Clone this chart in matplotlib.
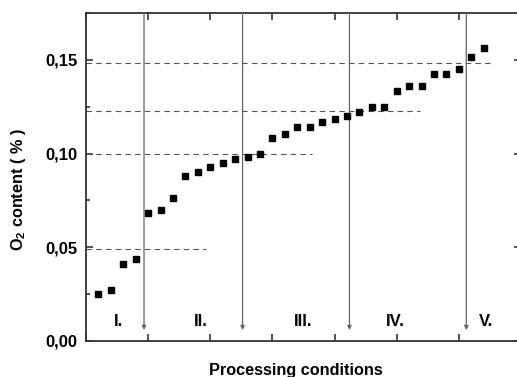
import numpy as np
import matplotlib
matplotlib.use('Agg')
import matplotlib.pyplot as plt
from matplotlib.ticker import FixedLocator, FixedFormatter, MultipleLocator

plt.rcParams['font.family'] = ['Liberation Sans', 'DejaVu Sans']
plt.rcParams['font.weight'] = 'bold'
plt.rcParams['mathtext.fontset'] = 'custom'
plt.rcParams['mathtext.bf'] = 'Liberation Sans:bold'
plt.rcParams['mathtext.rm'] = 'Liberation Sans:bold'
plt.rcParams['mathtext.default'] = 'bf'
plt.rcParams['lines.scale_dashes'] = False

# measured O2 content, sorted by processing condition
cond = np.arange(1, 33)
o2 = [0.0251, 0.0272, 0.0411, 0.0440, 0.0682, 0.0701, 0.0762, 0.0883,
      0.0902, 0.0931, 0.0952, 0.0972, 0.0983, 0.1000, 0.1082, 0.1102,
      0.1141, 0.1141, 0.1171, 0.1182, 0.1203, 0.1221, 0.1251, 0.1251,
      0.1333, 0.1362, 0.1362, 0.1422, 0.1422, 0.1451, 0.1513, 0.1561]

# group boundaries (arrows) and group mean levels (dashed lines)
bounds = [4.67, 12.6, 21.2, 30.6]
levels = [0.049, 0.0999, 0.1228, 0.1483]
level_ends = [9.67, 18.2, 26.9, 32.5]
groups = ['I.', 'II.', 'III.', 'IV.', 'V.']
group_x = [2.6, 9.2, 17.5, 24.9, 32.2]

yticks = [0.00, 0.05, 0.10, 0.15]
ytick_labels = ['0,00', '0,05', '0,10', '0,15']

fig = plt.figure(figsize=(5.17, 3.77), dpi=100)
ax = fig.add_axes([0.1663, 0.0955, 0.8414, 0.870])

ax.set_xlim(0, 35)
ax.set_ylim(0, 0.175)

for lv, xe in zip(levels, level_ends):
    ax.plot([0, xe], [lv, lv], color='#555555', lw=0.8, dashes=(4, 3))

for b in bounds:
    ax.annotate('', xy=(b, 0.0058), xytext=(b, 0.175),
                arrowprops=dict(arrowstyle='-|>', color='#666666', lw=0.9,
                                mutation_scale=6, shrinkA=0, shrinkB=0))

ax.plot(cond, o2, 's', color='black', markersize=5, zorder=5)

for g, gx in zip(groups, group_x):
    ax.text(gx, 0.0105, g, ha='center', va='center', fontsize=12, fontweight='bold')

ax.yaxis.set_major_locator(FixedLocator(yticks))
ax.yaxis.set_major_formatter(FixedFormatter(ytick_labels))
ax.yaxis.set_minor_locator(MultipleLocator(0.025))
ax.xaxis.set_major_locator(MultipleLocator(5))
ax.set_xticklabels([])

ax.tick_params(which='both', direction='in', top=True, right=True, width=1.2,
               color='#333333')
ax.tick_params(which='major', length=5, labelsize=12, pad=6)
ax.tick_params(which='minor', length=3)
for lab in ax.get_yticklabels():
    lab.set_fontweight('bold')

for s in ax.spines.values():
    s.set_linewidth(1.3)
    s.set_color('#333333')

ax.set_ylabel('O$_2$ content ( % )', fontsize=11.7, fontweight='bold')
ax.yaxis.set_label_coords(-0.133, 0.463)
ax.set_xlabel('Processing conditions', fontsize=11.7, fontweight='bold')
ax.xaxis.set_label_coords(0.483, -0.067)

fig.savefig('out.png', dpi=100)
